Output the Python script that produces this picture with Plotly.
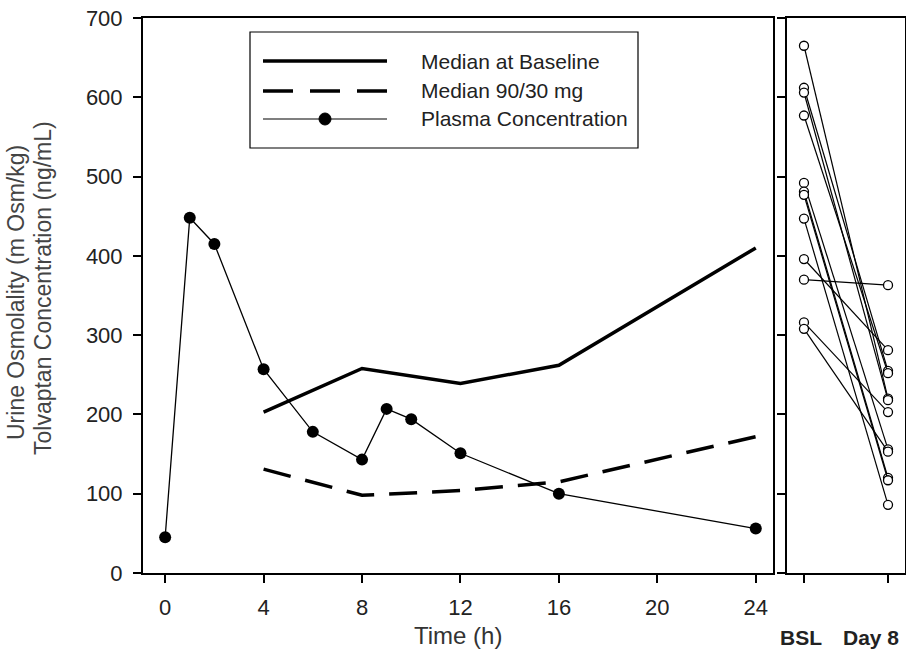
import plotly.graph_objects as go

# ---------------- data ----------------
time_plasma = [0, 1, 2, 4, 6, 8, 9, 10, 12, 16, 24]
plasma_conc = [45, 448, 415, 257, 178, 143, 207, 194, 151, 100, 56]

time_median = [4, 8, 12, 16, 24]
median_baseline = [203, 258, 239, 262, 410]
median_90_30 = [131, 98, 104, 115, 172]

pair_labels = ["BSL", "Day 8"]
osm_bsl = [665, 612, 606, 577, 492, 481, 477, 447, 396, 370, 316, 308]
osm_day8 = [220, 255, 218, 252, 156, 120, 117, 86, 281, 363, 203, 153]

x_ticks = [0, 4, 8, 12, 16, 20, 24]
y_ticks = [0, 100, 200, 300, 400, 500, 600, 700]

# ---------------- geometry helpers ----------------
W, H = 906, 652


def px(x):
    return x / W


def py(y):
    return 1 - y / H


FONT = "Arial, Liberation Sans, sans-serif"

fig = go.Figure()

fig.add_trace(go.Scatter(x=time_median, y=median_baseline, mode="lines",
                         line=dict(color="black", width=3.5),
                         name="Median at Baseline", showlegend=False,
                         xaxis="x", yaxis="y"))
fig.add_trace(go.Scatter(x=time_median, y=median_90_30, mode="lines",
                         line=dict(color="black", width=3.5, dash="28px,15px"),
                         name="Median 90/30 mg", showlegend=False,
                         xaxis="x", yaxis="y"))
fig.add_trace(go.Scatter(x=time_plasma, y=plasma_conc, mode="lines+markers",
                         line=dict(color="black", width=1.3),
                         marker=dict(symbol="circle", size=12, color="black"),
                         name="Plasma Concentration", showlegend=False,
                         xaxis="x", yaxis="y"))

for b, d in zip(osm_bsl, osm_day8):
    fig.add_trace(go.Scatter(x=[0, 1], y=[b, d], mode="lines+markers",
                             line=dict(color="black", width=1.2),
                             marker=dict(symbol="circle", size=9, color="white",
                                         line=dict(color="black", width=1.3)),
                             showlegend=False, hoverinfo="skip",
                             xaxis="x2", yaxis="y2"))

ydom = [py(573), py(18)]
axis_common = dict(showline=True, linecolor="black", linewidth=2, mirror=True,
                   ticks="outside", ticklen=8, tickwidth=1.5, tickcolor="black",
                   showgrid=False, zeroline=False, automargin=False,
                   tickfont=dict(family=FONT, size=22, color="#222"))

fig.update_layout(
    width=W, height=H,
    margin=dict(l=0, r=0, t=0, b=0, pad=0, autoexpand=False),
    paper_bgcolor="white", plot_bgcolor="white",
    xaxis=dict(domain=[px(143), px(773)], range=[-0.9, 24.7],
               tickvals=x_ticks, anchor="y", ticklabelstandoff=6, **axis_common),
    yaxis=dict(domain=ydom, range=[0, 700], tickvals=y_ticks, anchor="x",
               ticklabelstandoff=6, **axis_common),
    xaxis2=dict(domain=[px(787), px(905)], range=[-0.202, 1.202],
                tickvals=[0, 1], showticklabels=False, anchor="y2", **axis_common),
    yaxis2=dict(domain=ydom, range=[0, 700], tickvals=y_ticks,
                showticklabels=False, anchor="x2", **axis_common),
    showlegend=False,
)

# ---------------- manual legend ----------------
shapes = [
    dict(type="rect", xref="paper", yref="paper", x0=px(250), x1=px(638),
         y0=py(148), y1=py(32), line=dict(color="black", width=1.2),
         fillcolor="white", layer="above"),
    dict(type="line", xref="paper", yref="paper", x0=px(263), x1=px(387),
         y0=py(61), y1=py(61), line=dict(color="black", width=3.5)),
    dict(type="line", xref="paper", yref="paper", x0=px(263), x1=px(387),
         y0=py(91), y1=py(91), line=dict(color="black", width=3.5, dash="30px,17px")),
    dict(type="line", xref="paper", yref="paper", x0=px(263), x1=px(387),
         y0=py(119), y1=py(119), line=dict(color="black", width=1.2)),
    dict(type="circle", xref="paper", yref="paper", x0=px(319), x1=px(331),
         y0=py(125), y1=py(113), line=dict(color="black", width=1),
         fillcolor="black"),
]
fig.update_layout(shapes=shapes)

legend_names = ["Median at Baseline", "Median 90/30 mg", "Plasma Concentration"]
legend_rows = [61, 91, 119]
annotations = []
for name, yy in zip(legend_names, legend_rows):
    annotations.append(dict(text=name, xref="paper", yref="paper", x=px(419), y=py(yy),
                            xanchor="left", yanchor="middle", showarrow=False,
                            font=dict(family=FONT, size=21, color="#222")))

annotations += [
    dict(text="Time (h)", xref="paper", yref="paper", x=px(458), y=py(635),
         xanchor="center", yanchor="middle", showarrow=False,
         font=dict(family=FONT, size=24, color="#333")),
    dict(text="<b>" + pair_labels[0] + "</b>", xref="paper", yref="paper", x=px(801), y=py(637),
         xanchor="center", yanchor="middle", showarrow=False,
         font=dict(family=FONT, size=21, color="#222")),
    dict(text="<b>" + pair_labels[1] + "</b>", xref="paper", yref="paper", x=px(871), y=py(637),
         xanchor="center", yanchor="middle", showarrow=False,
         font=dict(family=FONT, size=21, color="#222")),
    dict(text="Urine Osmolality (m Osm/kg)", xref="paper", yref="paper", x=px(16), y=py(293),
         xanchor="center", yanchor="middle", showarrow=False, textangle=-90,
         font=dict(family=FONT, size=23, color="#444")),
    dict(text="Tolvaptan Concentration (ng/mL)", xref="paper", yref="paper", x=px(43), y=py(288),
         xanchor="center", yanchor="middle", showarrow=False, textangle=-90,
         font=dict(family=FONT, size=23, color="#444")),
]
fig.update_layout(annotations=annotations)

fig.write_html("out.html")
